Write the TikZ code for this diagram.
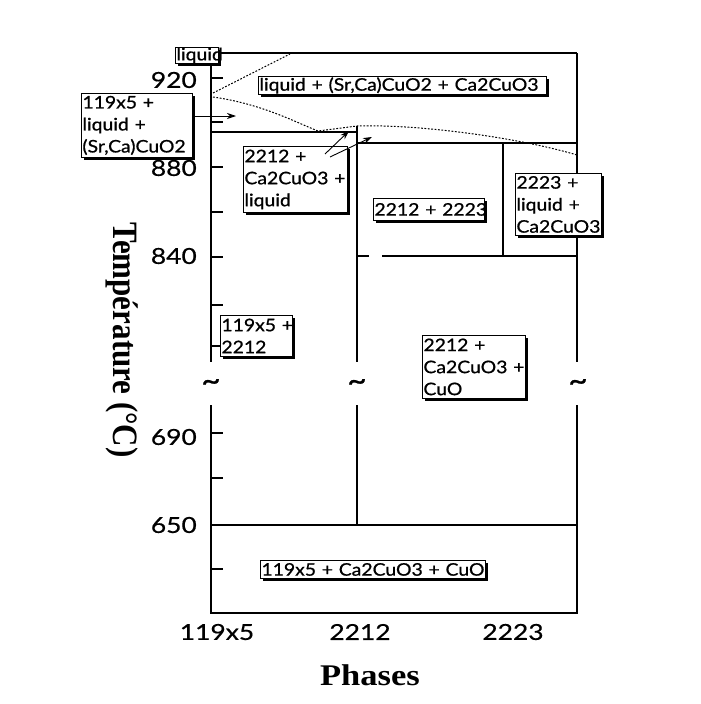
\documentclass[tikz,border=0pt]{standalone}
\usepackage{fontspec}
\usepackage{graphicx}
\setmainfont{Liberation Serif}
\newfontfamily\gs[FakeStretch=1.12,FakeBold=0.8]{Lato}
\newfontfamily\gsw[FakeStretch=1.2,FakeBold=0.6]{Lato}
\usetikzlibrary{shadows,arrows.meta}
\tikzset{
  pbox/.style={draw, line width=0.9pt, fill=white,
    drop shadow={shadow xshift=2.5pt, shadow yshift=-2.5pt, fill=black, opacity=1},
    font=\gs\fontsize{17.3}{22}\selectfont, align=left, inner xsep=1pt, inner ysep=0pt, anchor=north west},
  frame/.style={line width=1.4pt},
  dots/.style={line width=1pt, dash pattern=on 1.8pt off 1.6pt},
  tickm/.style={line width=1.2pt},
  arr/.style={line width=0.9pt, -{Stealth[length=9pt,width=6pt]}},
  ylab/.style={font=\gsw\fontsize{22}{22}\selectfont, anchor=east, inner sep=0pt},
  xlab/.style={font=\gsw\fontsize{22}{22}\selectfont, inner sep=0pt},
  tild/.style={font=\gs\fontsize{30}{30}\selectfont, inner sep=0pt},
}
\begin{document}
\begin{tikzpicture}[x=1pt,y=-1pt]
\useasboundingbox[fill=white] (0,0) rectangle (701,704);
% frame lines
\coordinate (tl) at (211,53); \coordinate (tr) at (577,53);
\coordinate (bl) at (211,613); \coordinate (br) at (577,613);
\draw[frame] (218,53) -- (tr);
\draw[frame] (211,63) -- (211,362);
\draw[frame] (211,405) -- (bl) -- (br) -- (577,405);
\draw[frame] (tr) -- (577,362);
\draw[frame] (357,126) -- (357,362);
\draw[frame] (357,405) -- (357,525);
\draw[frame] (211,525) -- (577,525);
\draw[frame] (211,132) -- (357,132);
\draw[frame] (357,143) -- (577,143);
\draw[frame] (503,143) -- (503,256);
\draw[frame] (357,256) -- (369,256);
\draw[frame] (382,256) -- (577,256);
% ticks
\foreach \t in {78,122,167,212,257,305,346,433,478,569}
  \draw[tickm] (211,\t) -- (223,\t);
% dotted boundaries
\draw[dots] (213,93) -- (290,54);
\draw[dots] (213,97) .. controls (262,104) and (295,122) .. (318,131)
  -- (357,126) .. controls (420,124) and (520,138) .. (577,155);
% boxes
\node[pbox, text width=41pt, minimum height=16pt] (b1) at (175,47) {\mbox{liquid}};
\node[pbox, text width=286pt, minimum height=18pt] (b2) at (258,76) {\mbox{liquid + (Sr,Ca)CuO2 + Ca2CuO3}};
\node[pbox, text width=109pt, minimum height=64pt] (b3) at (81,93) {\mbox{119x5 +}\\\mbox{liquid +}\\\mbox{(Sr,Ca)CuO2}};
\node[pbox, text width=102pt, minimum height=66pt] (b4) at (243,146) {\mbox{2212 +}\\\mbox{Ca2CuO3 +}\\\mbox{liquid}};
\node[pbox, text width=109pt, minimum height=22pt] (b5) at (373,198) {\mbox{2212 + 2223}};
\node[pbox, text width=84pt, minimum height=62pt] (b6) at (515,173) {\mbox{2223 +}\\\mbox{liquid +}\\\mbox{Ca2CuO3}};
\node[pbox, text width=70pt, minimum height=41pt] (b7) at (220,315) {\mbox{119x5 +}\\\mbox{2212}};
\node[pbox, text width=101pt, minimum height=63pt] (b8) at (422,335) {\mbox{2212 +}\\\mbox{Ca2CuO3 +}\\\mbox{CuO}};
\node[pbox, text width=223pt, minimum height=18pt] (b9) at (260,560) {\mbox{119x5 + Ca2CuO3 + CuO}};
% arrows
\coordinate (a1e) at (236,116);
\draw[arr] (b3.east |- a1e) -- (a1e);
\coordinate (a2s) at (325,154); \coordinate (a2e) at (349,131);
\draw[arr] (a2s) -- (a2e);
\coordinate (a3s) at (330,157); \coordinate (a3e) at (372,137);
\draw[arr] (a3s) -- (a3e);
% tildes
\node[tild] (t1) at (211,385) {\textasciitilde};
\node[tild] (t2) at (357,385) {\textasciitilde};
\node[tild] (t3) at (578,385) {\textasciitilde};
% y tick labels
\node[ylab] (y920) at (197,80) {920};
\node[ylab] (y880) at (197,168) {880};
\node[ylab] (y840) at (197,256) {840};
\node[ylab] (y690) at (197,437) {690};
\node[ylab] (y650) at (197,525) {650};
% x labels
\node[xlab] (x1) at (217,632) {119x5};
\node[xlab] (x2) at (360,632) {2212};
\node[xlab] (x3) at (513,632) {2223};
\node[font=\bfseries\fontsize{30}{30}\selectfont, inner sep=0pt] (xt) at (370,675) {\scalebox{1.15}[1]{Phases}};
\node[rotate=-90, font=\bfseries\fontsize{31}{31}\selectfont, inner sep=0pt] (yt) at (122,340) {\scalebox{1}[1.15]{Température (°C)}};
\end{tikzpicture}
\end{document}
